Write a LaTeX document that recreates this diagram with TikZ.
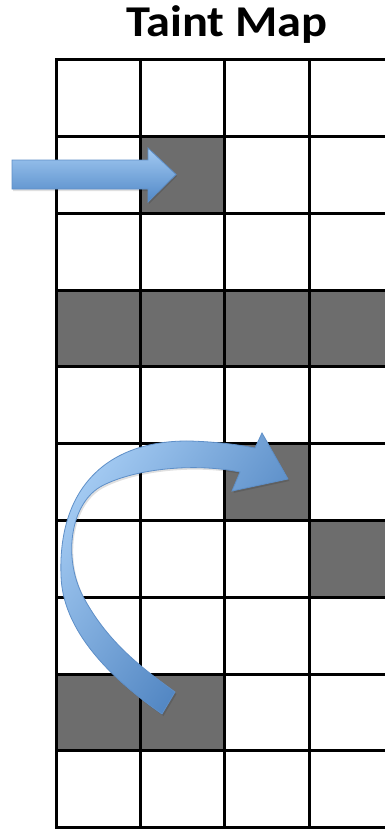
\documentclass[tikz,border=0pt]{standalone}
\usepackage{fontspec}
\setmainfont{Carlito}
\definecolor{cellgray}{HTML}{6D6D6D}
\definecolor{arrlight}{HTML}{A3CAF2}
\definecolor{arrmid}{HTML}{78AAE3}
\definecolor{arrdark}{HTML}{4A82C2}
\definecolor{arcdark}{HTML}{3C74B6}
\definecolor{arredge}{HTML}{5E8FC8}
\tikzset{
  gridline/.style={line width=3pt, line cap=rect, black},
  taint/.style={fill=cellgray},
  blockarrow/.style={draw=arredge, line width=0.8pt, line join=miter},
  arrowshadow/.style={fill=black, opacity=0.12},
}
\begin{document}
\begin{tikzpicture}[x=1pt,y=-1pt]
\useasboundingbox (0,0) rectangle (384,831);
\fill[white] (0,0) rectangle (384,831);
% title
\node[font=\bfseries\fontsize{44}{46}\selectfont, anchor=base, inner sep=0pt] (title) at (227,36) {\scalebox{1.1}[1]{Taint Map}};
% tainted cells (col width 84, row height 76.8)
\fill[taint] (140,136) rectangle (224,213);
\fill[taint] (56,290) rectangle (392,366);
\fill[taint] (224,443) rectangle (309,520);
\fill[taint] (309,520) rectangle (392,597);
\fill[taint] (56,674) rectangle (224,750);
% grid
\foreach \x in {56,140,224,309} \draw[gridline] (\x,59) -- (\x,827);
\foreach \y in {59,136,213,290,366,443,520,597,674,750,827} \draw[gridline] (56,\y) -- (390,\y);
% straight arrow
\fill[arrowshadow] (13,162) -- (149,162) -- (149,150) -- (177,176) -- (149,204) -- (149,191) -- (13,191) -- cycle;
\shade[blockarrow, top color=arrlight, bottom color=arrdark!85!arrmid]
  (12,160) -- (148,160) -- (148,148) -- (176,174.5) -- (148,202) -- (148,189) -- (12,189) -- cycle;
% curved arrow
\def\arcpath{(162,714) .. controls (110,678) and (62,630) .. (61,575)
   .. controls (58,490) and (105,440) .. (190,441)
   .. controls (220,442) and (240,445) .. (255,448) -- (262,433) -- (288,479) -- (232,491) -- (240,472)
   .. controls (190,462) and (130,470) .. (100,487)
   .. controls (70,505) and (62,560) .. (85,600)
   .. controls (110,645) and (145,670) .. (175,692) -- cycle}
\fill[arrowshadow, shift={(1.5,2)}] \arcpath;
\shade[blockarrow, top color=arrlight, bottom color=arcdark, shading angle=55] \arcpath;
\end{tikzpicture}
\end{document}
